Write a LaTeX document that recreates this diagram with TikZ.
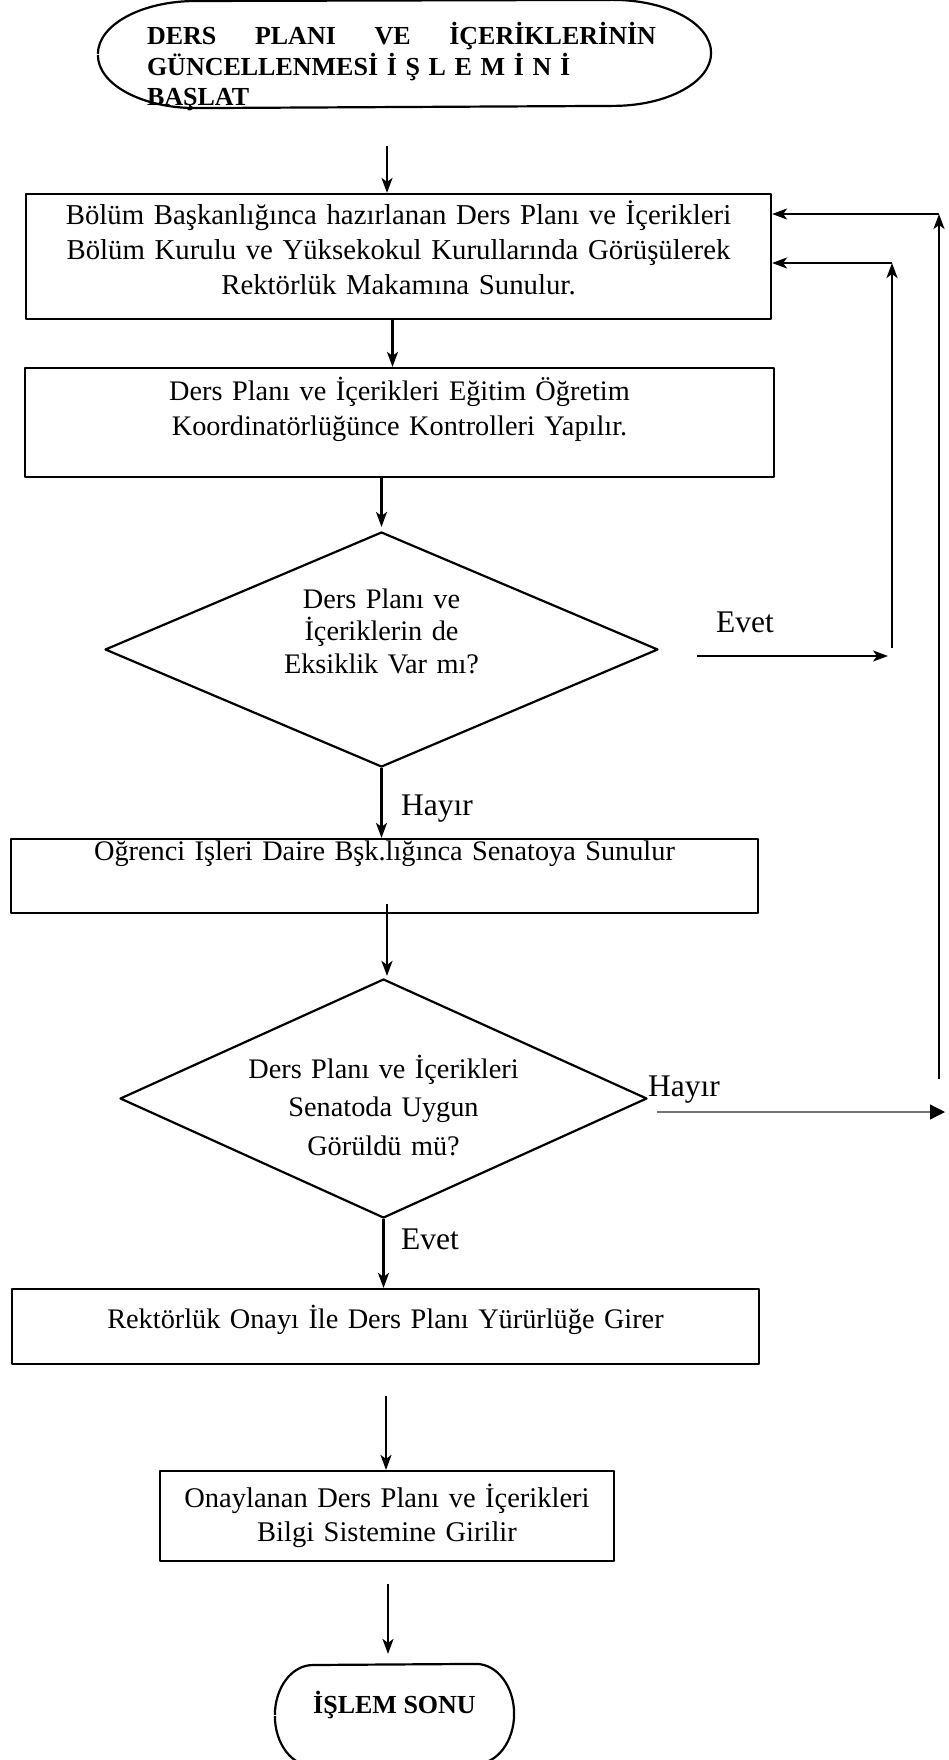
\documentclass[tikz,border=0pt]{standalone}
\usepackage{fontspec}
\setmainfont{Liberation Serif}
\usepackage{tikz}
\usetikzlibrary{arrows.meta, shapes.geometric}

\begin{document}
\begin{tikzpicture}[
        x=1pt, y=-1pt, line width=2.2pt, line join=round,
        box/.style={draw, rectangle, inner sep=0pt, align=center, font=\fontsize{28.3}{35}\selectfont},
        decision/.style={draw, diamond, inner sep=0pt, align=center, font=\fontsize{28.3}{32.5}\selectfont},
        term/.style={inner sep=0pt, font=\bfseries\fontsize{26}{30.5}\selectfont},
        lbl/.style={anchor=base west, inner sep=0pt, font=\fontsize{31.5}{36}\selectfont},
        >={Stealth[length=15pt, width=11pt, inset=4pt]}
    ]
        \useasboundingbox (0,0) rectangle (948,1760);

        % Nodes
        \node[term, text width=515, inner xsep=48, align=left, text height=44, text depth=62] (start) at (404.5,54)
            {\hbox to 509pt{DERS\hfill PLANI\hfill VE\hfill İÇERİKLERİNİN}\\ GÜNCELLENMESİ İ Ş L E M İ N İ\\ BAŞLAT};
        \node[box, text width=745, text height=31, text depth=94, font=\fontsize{28.8}{35}\selectfont] (plan) at (398.5,256.5)
            {Bölüm Başkanlığınca hazırlanan Ders Planı ve İçerikleri\\ Bölüm Kurulu ve Yüksekokul Kurullarında Görüşülerek\\ Rektörlük Makamına Sunulur.};
        \node[box, text width=749, text height=32, text depth=77] (control) at (399.5,422.5)
            {Ders Planı ve İçerikleri Eğitim Öğretim\\ Koordinatörlüğünce Kontrolleri Yapılır.};
        \node[decision, minimum width=553, minimum height=235, aspect=2.35, text width=210, text height=27, text depth=110] (check) at (381.5,649.5)
            {Ders Planı ve\\ İçeriklerin de\\ Eksiklik Var mı?};
        \node[box, text width=747, text height=21, text depth=53] (submit) at (384.5,876)
            {Oğrenci Işleri Daire Bşk.lığınca Senatoya Sunulur};
        \node[decision, minimum width=527, minimum height=239, aspect=2.2, text width=280, text height=30, text depth=71, font=\fontsize{28.3}{38.5}\selectfont] (senate) at (383.5,1098.5)
            {Ders Planı ve İçerikleri\\ Senatoda Uygun\\ Görüldü mü?};
        \node[box, text width=747, text height=39, text depth=36] (approve) at (385.5,1326.5)
            {Rektörlük Onayı İle Ders Planı Yürürlüğe Girer};
        \node[box, text width=454, text height=36, text depth=54, font=\fontsize{28.5}{34}\selectfont] (enter) at (387,1516)
            {Onaylanan Ders Planı ve İçerikleri\\ Bilgi Sistemine Girilir};
        \node[term, minimum width=237, text height=48, text depth=52] (finish) at (394.5,1715) {İŞLEM SONU};

        % Terminator outlines
        \draw (start.west) arc[start angle=180, end angle=90, x radius=98pt, y radius=53pt]
            -- ([xshift=-98]start.north east)
            arc[start angle=90, end angle=-90, x radius=98pt, y radius=53pt]
            -- ([xshift=98]start.south west)
            arc[start angle=270, end angle=180, x radius=98pt, y radius=53pt];
        \draw (finish.west) arc[start angle=180, end angle=90, x radius=38pt, y radius=50pt]
            -- ([xshift=-38]finish.north east)
            arc[start angle=90, end angle=-90, x radius=38pt, y radius=50pt]
            -- ([xshift=38]finish.south west)
            arc[start angle=270, end angle=180, x radius=38pt, y radius=50pt];

        % Labels
        \node[lbl] (yes1) at (715,632) {Evet};
        \node[lbl] (no1) at (400,815) {Hayır};
        \node[lbl] (no2) at (647,1096) {Hayır};
        \node[lbl] (yes2) at (400,1249) {Evet};

        % Arrows
        \coordinate (a0) at (387,146);
        \coordinate (a5) at (387,904);
        \coordinate (a6) at (386,1396);
        \coordinate (a7) at (388,1584);
        \draw[->] (a0) -- (a0 |- plan.north);
        \draw[->] ([xshift=-6]plan.south) -- ([xshift=-6]plan.south |- control.north);
        \draw[->, shorten >=4pt] (check.north |- control.south) -- (check.north);
        \draw[->] (check.south) -- (check.south |- submit.north);
        \draw[->, shorten >=2pt] (a5) -- (a5 |- senate.north);
        \draw[->] (senate.south) -- (senate.south |- approve.north);
        \draw[->] (a6) -- (a6 |- enter.north);
        \draw[->, shorten >=10pt] (a7) -- (a7 |- finish.north);

        % Return loops
        \coordinate (yes1a) at (697,656);
        \coordinate (yes1b) at (888,656);
        \coordinate (ret1) at (892,648);
        \coordinate (ret1top) at (892,263);
        \coordinate (ret2) at (939,1079);
        \coordinate (ret2top) at (939,214);
        \coordinate (no2a) at (657,1112);
        \coordinate (no2b) at (945,1112);
        \draw[->] (yes1a) -- (yes1b);
        \draw[->] (ret1) -- (ret1top);
        \draw[->] (ret1top) -- (ret1top -| plan.east);
        \draw[->] (ret2) -- (ret2top);
        \draw[->] (ret2top) -- (ret2top -| plan.east);
        \draw[line width=1.2pt, black!55, -{Triangle[length=15pt, width=15pt, black]}] (no2a) -- (no2b);
    \end{tikzpicture}
\end{document}
